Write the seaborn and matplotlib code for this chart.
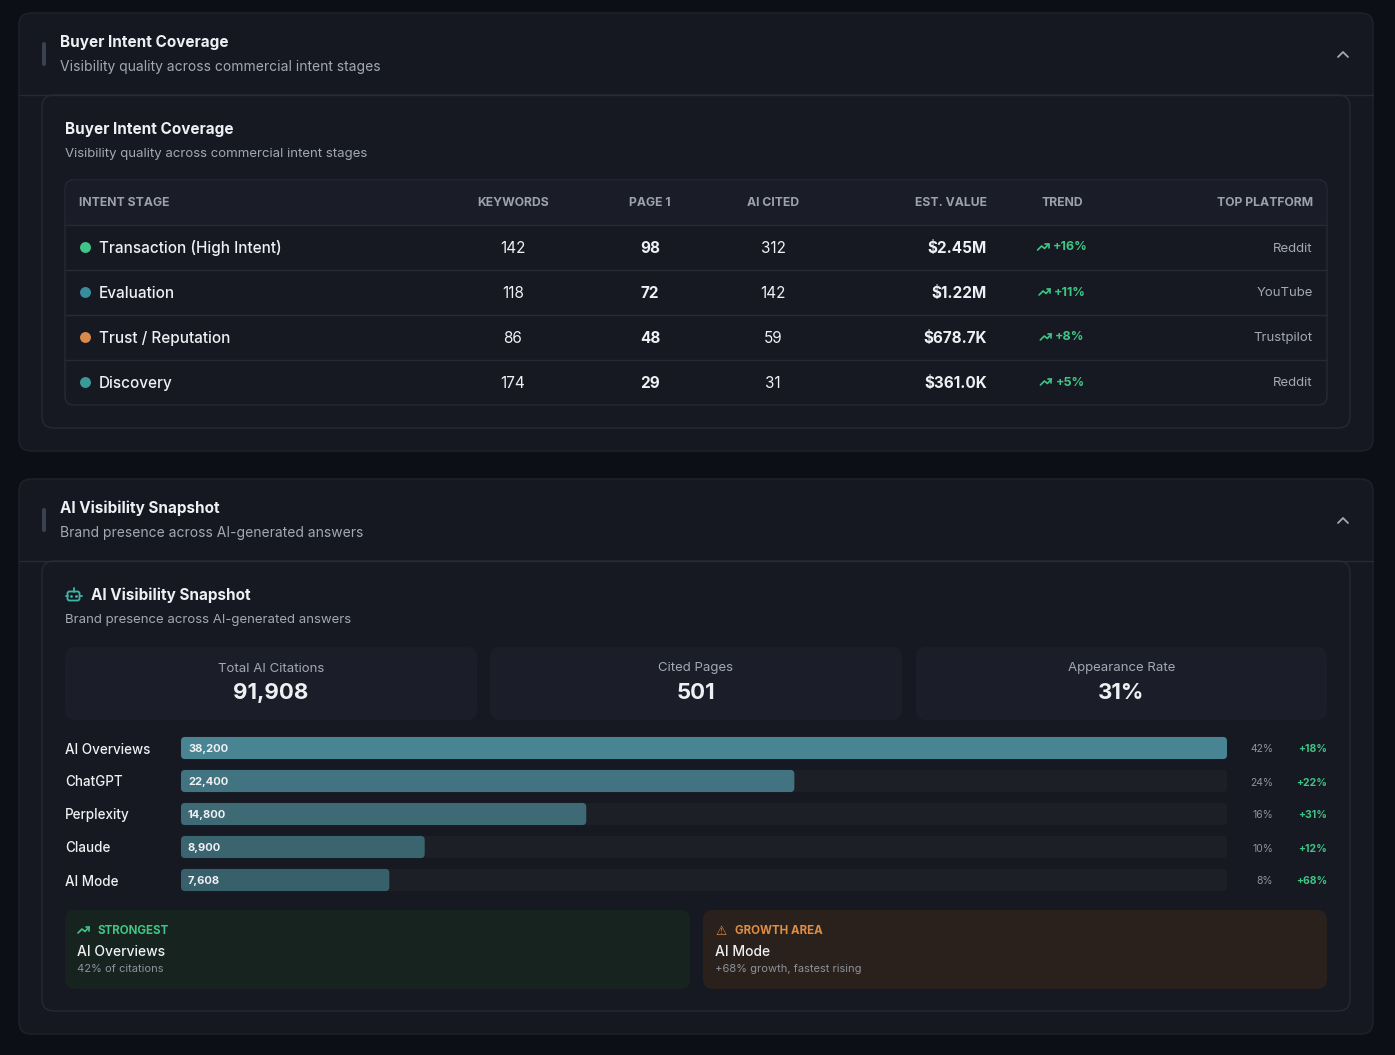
"""
AI visibility dashboard: buyer intent table and AI citation bars
"""

import matplotlib
matplotlib.use("Agg")
import matplotlib.pyplot as plt
from matplotlib.patches import FancyBboxPatch
import seaborn as sns

# ---- data ----
stages = ["Transaction (High Intent)", "Evaluation", "Trust / Reputation", "Discovery"]
stage_colors = ["#3fc585", "#3a8d9c", "#d98a4a", "#3a9a98"]
keywords = [142, 118, 86, 174]
page1 = [98, 72, 48, 29]
ai_cited = [312, 142, 59, 31]
est_value = ["$2.45M", "$1.22M", "$678.7K", "$361.0K"]
trend_pct = [16, 11, 8, 5]
top_platform = ["Reddit", "YouTube", "Trustpilot", "Reddit"]

stat_labels = ["Total AI Citations", "Cited Pages", "Appearance Rate"]
stat_values = ["91,908", "501", "31%"]

platforms = ["AI Overviews", "ChatGPT", "Perplexity", "Claude", "AI Mode"]
citations = [38200, 22400, 14800, 8900, 7608]
share_pct = [42, 24, 16, 10, 8]
growth_pct = [18, 22, 31, 12, 68]
bar_colors = ["#3d8c9e", "#37798a", "#346f7e", "#316977", "#2f6572"]

# ---- style ----
BG = "#0c0f16"
CARD = "#151821"
INNER = "#161922"
BORDER = "#262a35"
HEAD = "#1a1d27"
TRACK = "#1b1e28"
WHITE = "#eef0f3"
GREY = "#a3a8b2"
DIM = "#8d929c"
HDR = "#9ca1ab"
GREEN = "#3fc585"
ORANGE = "#e08d45"
DY = 1.5  # text nudge down (px)

sns.set_style("dark", rc={"axes.facecolor": BG, "figure.facecolor": BG})
plt.rcParams["font.family"] = ["Inter", "DejaVu Sans"]

W, H = 1395, 1055
fig = plt.figure(figsize=(W / 100, H / 100), dpi=100)
bg = fig.add_axes([0, 0, 1, 1])
bg.set_xlim(0, W)
bg.set_ylim(H, 0)
bg.axis("off")
bg.set_facecolor(BG)


def txt(x, y, s, **kw):
    kw.setdefault("va", "center")
    kw.setdefault("zorder", 5)
    return bg.text(x, y + DY, s, **kw)


def rbox(x0, y0, x1, y1, fc, ec="none", r=10, lw=1.0, z=1):
    p = FancyBboxPatch((x0, y0), x1 - x0, y1 - y0,
                       boxstyle=f"round,pad=0,rounding_size={r}",
                       fc=fc, ec=ec, lw=lw, zorder=z)
    bg.add_patch(p)
    return p


def trend_icon(x, y, color, s=1.0):
    # small trending-up arrow, (x, y) = left-bottom
    xs = [x, x + 4 * s, x + 7 * s, x + 11 * s]
    ys = [y, y - 4 * s, y - 1.5 * s, y - 6 * s]
    bg.plot(xs, ys, color=color, lw=1.2, solid_capstyle="round", zorder=5)
    bg.plot([x + 7.5 * s, x + 11 * s, x + 11 * s], [y - 6 * s, y - 6 * s, y - 2.5 * s],
            color=color, lw=1.2, solid_capstyle="round", zorder=5)


def chevron(cx, cy):
    bg.plot([cx - 5, cx, cx + 5], [cy + 3, cy - 2, cy + 3], color=GREY, lw=1.3,
            solid_capstyle="round", zorder=5)


def card_header(y_top, title, subtitle):
    rbox(42, y_top + 29, 46, y_top + 53, "#3a4150", r=2, z=3)
    txt(60, y_top + 28, title, color=WHITE, fontsize=11, fontweight="bold")
    txt(60, y_top + 52, subtitle, color=GREY, fontsize=10)
    chevron(1343, y_top + 41)
    bg.plot([19, 1373], [y_top + 82, y_top + 82], color=BORDER, lw=1, zorder=3)


fig.canvas.draw()
renderer = fig.canvas.get_renderer()


def text_width(t):
    return t.get_window_extent(renderer=renderer).width


# ================= card 1 =================
rbox(19, 13, 1373, 451, CARD, ec="#1f232c", r=12, z=1)
card_header(13, "Buyer Intent Coverage", "Visibility quality across commercial intent stages")
rbox(42, 95, 1350, 428, INNER, ec=BORDER, r=12, z=2)
txt(65, 128, "Buyer Intent Coverage", color=WHITE, fontsize=11, fontweight="bold")
txt(65, 153, "Visibility quality across commercial intent stages", color=GREY,
    fontsize=9.5)

# table frame
rbox(65, 180, 1327, 405, INNER, ec=BORDER, r=9, z=3)
hdr = FancyBboxPatch((65.5, 180.5), 1261, 44, boxstyle="round,pad=0,rounding_size=9",
                     fc=HEAD, ec="none", zorder=3)
bg.add_patch(hdr)
bg.fill_between([66, 1326], 212, 225, color=HEAD, zorder=3, lw=0)

headers = [("INTENT STAGE", 79, "left"), ("KEYWORDS", 513, "center"),
           ("PAGE 1", 650, "center"), ("AI CITED", 773, "center"),
           ("EST. VALUE", 987, "right"), ("TREND", 1062, "center"),
           ("TOP PLATFORM", 1313, "right")]
for name, hx, ha in headers:
    txt(hx, 202, name, color=HDR, fontsize=8.8, fontweight="bold", ha=ha)

row_h = 45
for i, stage in enumerate(stages):
    yc = 247 + i * row_h
    bg.plot([65, 1327], [yc - 22.5, yc - 22.5], color=BORDER, lw=1, zorder=4)
    bg.scatter([84.5], [yc], s=62, color=stage_colors[i], zorder=5, lw=0)
    txt(99, yc, stage, color=WHITE, fontsize=11, fontweight="medium")
    txt(513, yc, str(keywords[i]), color=WHITE, fontsize=11, ha="center")
    txt(650, yc, str(page1[i]), color=WHITE, fontsize=11, fontweight="bold", ha="center")
    txt(773, yc, str(ai_cited[i]), color=WHITE, fontsize=11, ha="center")
    txt(987, yc, est_value[i], color=WHITE, fontsize=11, fontweight="bold", ha="right")
    t = txt(0, yc - 1, f"+{trend_pct[i]}%", color=GREEN, fontsize=9,
            fontweight="bold", ha="left")
    group = 12 + 3 + text_width(t)
    x0 = 1062.5 - group / 2
    t.set_x(x0 + 15)
    trend_icon(x0, yc + 3, GREEN)
    txt(1313, yc, top_platform[i], color=GREY, fontsize=9.5, ha="right")

# ================= card 2 =================
rbox(19, 479, 1373, 1034, CARD, ec="#1f232c", r=12, z=1)
card_header(479, "AI Visibility Snapshot", "Brand presence across AI-generated answers")
rbox(42, 561, 1350, 1011, INNER, ec=BORDER, r=12, z=2)

# robot icon
TEAL = "#3fb5a5"
rbox(67.5, 591.5, 79.5, 600.5, "none", ec=TEAL, r=2, lw=1.3, z=5)
bg.plot([73.5, 73.5], [588, 591.5], color=TEAL, lw=1.3, zorder=5)
bg.scatter([71, 76], [596, 596], s=4, color=TEAL, zorder=6, lw=0)
bg.plot([65.5, 67.5], [596, 596], color=TEAL, lw=1.3, zorder=5)
bg.plot([79.5, 81.5], [596, 596], color=TEAL, lw=1.3, zorder=5)

txt(91, 594, "AI Visibility Snapshot", color=WHITE, fontsize=11, fontweight="bold")
txt(65, 619, "Brand presence across AI-generated answers", color=GREY, fontsize=9.5)

stat_x = [(65, 477), (490, 902), (916, 1327)]
for (sx0, sx1), lab, val in zip(stat_x, stat_labels, stat_values):
    rbox(sx0, 647, sx1, 720, TRACK, r=10, z=3)
    cx = (sx0 + sx1) / 2
    txt(cx, 667, lab, color=GREY, fontsize=9.5, ha="center")
    txt(cx, 691.5, val, color=WHITE, fontsize=16, fontweight="bold", ha="center")

# bar chart axes
row_px = 33
top_px = 748 - row_px / 2
bar_ax = fig.add_axes([181 / W, 1 - (top_px + row_px * len(platforms)) / H,
                       1046 / W, row_px * len(platforms) / H])
bar_ax.patch.set_alpha(0)
track_vals = [max(citations)] * len(platforms)
sns.barplot(x=track_vals, y=platforms, orient="h", color=TRACK, width=0.67,
            ax=bar_ax, zorder=1)
sns.barplot(x=citations, y=platforms, hue=platforms, orient="h", palette=bar_colors,
            width=0.67, ax=bar_ax, legend=False, zorder=2)
bar_ax.set_xlim(0, max(citations))
bar_ax.set_ylim(len(platforms) - 0.5, -0.5)
bar_ax.axis("off")

# round the bar corners (4 px)
x_per_px = max(citations) / 1046
y_per_px = 1 / row_px
for p in list(bar_ax.patches):
    rp = FancyBboxPatch((p.get_x(), p.get_y()), p.get_width(), p.get_height(),
                        boxstyle=f"round,pad=0,rounding_size={4 * x_per_px}",
                        mutation_aspect=y_per_px / x_per_px,
                        fc=p.get_facecolor(), ec="none", zorder=p.get_zorder())
    p.remove()
    bar_ax.add_patch(rp)

for i, (name, val) in enumerate(zip(platforms, citations)):
    yc = 748 + i * row_px
    bar_ax.annotate(f"{val:,}", xy=(0, i), xytext=(5, -1), textcoords="offset points",
                    color=WHITE, fontsize=8, fontweight="bold", va="center", zorder=5)
    txt(65, yc, name, color=WHITE, fontsize=9.7, fontweight="medium")
    txt(1273, yc, f"{share_pct[i]}%", color=DIM, fontsize=7.5, ha="right")
    txt(1327, yc, f"+{growth_pct[i]}%", color=GREEN, fontsize=7.5,
        fontweight="bold", ha="right")

# insight cards
rbox(65, 910, 690, 989, "#16231f", r=10, z=3)
rbox(703, 910, 1327, 989, "#2a211c", r=10, z=3)
trend_icon(78, 933, GREEN)
txt(97, 930, "STRONGEST", color=GREEN, fontsize=8.3, fontweight="bold")
txt(77, 951, "AI Overviews", color=WHITE, fontsize=10, fontweight="medium")
txt(77, 968, "42% of citations", color=DIM, fontsize=8)

txt(715, 929.5, "⚠", color=ORANGE, fontsize=9, family=["DejaVu Sans"])
txt(735, 930, "GROWTH AREA", color=ORANGE, fontsize=8.3, fontweight="bold")
txt(715, 951, "AI Mode", color=WHITE, fontsize=10, fontweight="medium")
txt(715, 968, "+68% growth, fastest rising", color=DIM, fontsize=8)

fig.savefig("out.png", dpi=100, facecolor=BG)
